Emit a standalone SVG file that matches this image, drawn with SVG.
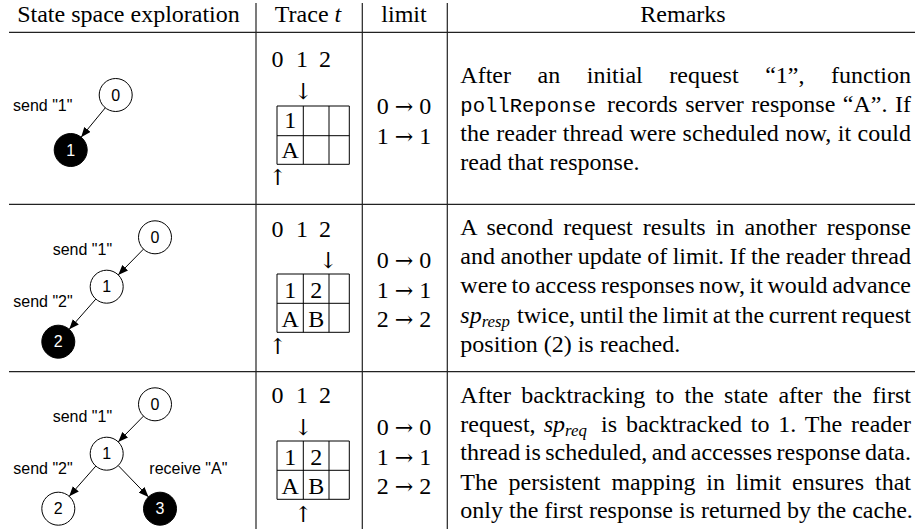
<svg xmlns="http://www.w3.org/2000/svg" width="915" height="529" viewBox="0 0 915 529">
<style>
.rule{stroke:#222;stroke-width:1.2;fill:none}
.serif{font-family:"Liberation Serif","Times New Roman",serif;font-size:24px;fill:#000}
.it{font-style:italic}
.sub{font-size:16.8px;font-style:italic}
.arr{font-family:"DejaVu Serif","DejaVu Sans",serif;font-size:22px;fill:#000;text-anchor:middle}
.ar{font-family:"DejaVu Serif","DejaVu Sans",serif;font-size:22px}
.mono{font-family:"Liberation Mono","Courier New",monospace;font-size:20.5px;fill:#000}
.sans{font-family:"Liberation Sans",Arial,sans-serif;font-size:16px;fill:#000}
.node circle{stroke:#000;stroke-width:1;fill:#fff}
.node.final circle{fill:#000}
.node text{font-family:"Liberation Sans",Arial,sans-serif;font-size:16px;text-anchor:middle;fill:#000}
.node.final text{fill:#fff}
.edge{stroke:#000;stroke-width:1;fill:none;marker-end:url(#ah)}
.grid{stroke:#000;stroke-width:1;fill:none}
.mid{text-anchor:middle}
</style>
<defs>
<marker id="ah" markerUnits="userSpaceOnUse" markerWidth="10" markerHeight="8" refX="10" refY="4" orient="auto">
<path d="M0,0 L10,4 L0,8 z" fill="#000"/>
</marker>
</defs>
<rect width="915" height="529" fill="#fff"/>

<g id="table-lines">
<line class="rule" x1="9" y1="32.3" x2="915" y2="32.3"/>
<line class="rule" x1="9" y1="204.3" x2="915" y2="204.3"/>
<line class="rule" x1="9" y1="371.7" x2="915" y2="371.7" stroke="#555" stroke-width="1.5"/>
<line class="rule" x1="256" y1="3" x2="256" y2="529"/>
<line class="rule" x1="362.3" y1="3" x2="362.3" y2="529"/>
<line class="rule" x1="447.3" y1="3" x2="447.3" y2="529"/>
</g>

<g id="header">
<text class="serif mid" x="128.5" y="22">State space exploration</text>
<text class="serif mid" x="308" y="22">Trace <tspan class="it">t</tspan></text>
<text class="serif mid" x="404" y="22">limit</text>
<text class="serif mid" x="683" y="22">Remarks</text>
</g>

<!-- Row 1 -->
<g id="r1-n0" class="node"><circle cx="115.7" cy="95" r="16.5"/><text x="115.7" y="100.7">0</text></g>
<g id="r1-n1" class="node final"><circle cx="70.7" cy="150" r="16.5"/><text x="70.7" y="155.7">1</text></g>

<!-- Row 2 -->
<g id="r2-n0" class="node"><circle cx="155" cy="237.3" r="16.5"/><text x="155" y="243">0</text></g>
<g id="r2-n1" class="node"><circle cx="106.7" cy="286.7" r="16.5"/><text x="106.7" y="292.4">1</text></g>
<g id="r2-n2" class="node final"><circle cx="58.3" cy="341.7" r="16.5"/><text x="58.3" y="347.4">2</text></g>

<!-- Row 3 -->
<g id="r3-n0" class="node"><circle cx="155" cy="404.3" r="16.5"/><text x="155" y="410">0</text></g>
<g id="r3-n1" class="node"><circle cx="106.7" cy="453.7" r="16.5"/><text x="106.7" y="459.4">1</text></g>
<g id="r3-n2" class="node"><circle cx="58.3" cy="508.7" r="16.5"/><text x="58.3" y="514.4">2</text></g>
<g id="r3-n3" class="node final"><circle cx="160" cy="508.7" r="16.5"/><text x="160" y="514.4">3</text></g>

<g id="connectors">
<line class="edge" x1="105.3" y1="107.8" x2="81.1" y2="137.2"/>
<line class="edge" x1="143.5" y1="249.1" x2="118.2" y2="274.9"/>
<line class="edge" x1="95.8" y1="299.1" x2="69.2" y2="329.3"/>
<line class="edge" x1="143.5" y1="416.1" x2="118.2" y2="441.9"/>
<line class="edge" x1="95.8" y1="466.1" x2="69.2" y2="496.3"/>
<line class="edge" x1="118.2" y1="465.5" x2="148.5" y2="496.9"/>
</g>

<g id="edge-labels">
<text class="sans" x="13" y="111">send "1"</text>
<text class="sans" x="52.7" y="255">send "1"</text>
<text class="sans" x="13.3" y="307">send "2"</text>
<text class="sans" x="52.7" y="422">send "1"</text>
<text class="sans" x="13.3" y="474">send "2"</text>
<text class="sans" x="149.3" y="474">receive "A"</text>
</g>

<!-- Trace column -->
<g id="trace1">
<text class="serif mid" y="67.3"><tspan x="277.5">0</tspan><tspan x="302">1</tspan><tspan x="325">2</tspan></text>
<text class="arr" x="303.3" y="99">↓</text>
<path class="grid" d="M277,106 H349.3 V164.3 H277 Z M277,135.7 H349.3 M303.3,106 V164.3 M329,106 V164.3"/>
<text class="serif mid" x="290.2" y="128.3">1</text>
<text class="serif mid" x="290.2" y="157.7">A</text>
<text class="arr" x="277.7" y="185">↑</text>
</g>
<g id="trace2">
<text class="serif mid" y="236.7"><tspan x="277.5">0</tspan><tspan x="302">1</tspan><tspan x="325">2</tspan></text>
<text class="arr" x="328.3" y="268">↓</text>
<path class="grid" d="M277,274 H349.3 V332.3 H277 Z M277,303.3 H349.3 M303.3,274 V332.3 M329,274 V332.3"/>
<text class="serif mid" x="290.2" y="298">1</text>
<text class="serif mid" x="316.2" y="298">2</text>
<text class="serif mid" x="290.2" y="327.3">A</text>
<text class="serif mid" x="316.2" y="327.3">B</text>
<text class="arr" x="277.7" y="353.5">↑</text>
</g>
<g id="trace3">
<text class="serif mid" y="403"><tspan x="277.5">0</tspan><tspan x="302">1</tspan><tspan x="325">2</tspan></text>
<text class="arr" x="303.3" y="435">↓</text>
<path class="grid" d="M277,441 H349.3 V499.3 H277 Z M277,470.3 H349.3 M303.3,441 V499.3 M329,441 V499.3"/>
<text class="serif mid" x="290.2" y="465">1</text>
<text class="serif mid" x="316.2" y="465">2</text>
<text class="serif mid" x="290.2" y="494.3">A</text>
<text class="serif mid" x="316.2" y="494.3">B</text>
<text class="arr" x="303.3" y="522">↑</text>
</g>

<!-- limit column -->
<g id="limit1">
<text class="serif mid" x="404" y="114.3">0 <tspan class="ar">→</tspan> 0</text>
<text class="serif mid" x="404" y="144.3">1 <tspan class="ar">→</tspan> 1</text>
</g>
<g id="limit2">
<text class="serif mid" x="404" y="268.3">0 <tspan class="ar">→</tspan> 0</text>
<text class="serif mid" x="404" y="297.7">1 <tspan class="ar">→</tspan> 1</text>
<text class="serif mid" x="404" y="326.7">2 <tspan class="ar">→</tspan> 2</text>
</g>
<g id="limit3">
<text class="serif mid" x="404" y="435.3">0 <tspan class="ar">→</tspan> 0</text>
<text class="serif mid" x="404" y="464.7">1 <tspan class="ar">→</tspan> 1</text>
<text class="serif mid" x="404" y="493.7">2 <tspan class="ar">→</tspan> 2</text>
</g>

<!-- Remarks -->
<g id="remarks1">
<text class="serif" x="460.3" y="83.3" word-spacing="20.56" textLength="450.7" lengthAdjust="spacing">After an initial request “1”, function</text>
<text class="mono" x="460.3" y="112.2" textLength="135.7" lengthAdjust="spacingAndGlyphs">pollReponse</text>
<text class="serif" x="607" y="112.2" word-spacing="1.5" textLength="304" lengthAdjust="spacing">records server response “A”. If</text>
<text class="serif" x="460.3" y="141" word-spacing="0.4" textLength="450.7" lengthAdjust="spacing">the reader thread were scheduled now, it could</text>
<text class="serif" x="460.3" y="169.7">read that response.</text>
</g>
<g id="remarks2">
<text class="serif" x="460.3" y="235" word-spacing="4" textLength="450.7" lengthAdjust="spacing">A second request results in another response</text>
<text class="serif" x="460.3" y="264" word-spacing="-0.56" textLength="450.7" lengthAdjust="spacing">and another update of limit. If the reader thread</text>
<text class="serif" x="460.3" y="293.3" word-spacing="-1.5" textLength="450.7" lengthAdjust="spacing">were to access responses now, it would advance</text>
<text class="serif" x="460.3" y="322.7"><tspan class="it">sp</tspan><tspan class="sub" dy="4">resp</tspan></text>
<text class="serif" x="517" y="322.7" word-spacing="-1.3" textLength="394" lengthAdjust="spacing">twice, until the limit at the current request</text>
<text class="serif" x="460.3" y="351.7">position (2) is reached.</text>
</g>
<g id="remarks3">
<text class="serif" x="460.3" y="403.3" word-spacing="4.3" textLength="450.7" lengthAdjust="spacing">After backtracking to the state after the first</text>
<text class="serif" x="460.3" y="431.7">request,</text>
<text class="serif" x="543.7" y="431.7"><tspan class="it">sp</tspan><tspan class="sub" dy="4">req</tspan></text>
<text class="serif" x="601" y="431.7" word-spacing="2.82" textLength="310" lengthAdjust="spacing">is backtracked to 1. The reader</text>
<text class="serif" x="460.3" y="460" word-spacing="-1.53" textLength="450.7" lengthAdjust="spacing">thread is scheduled, and accesses response data.</text>
<text class="serif" x="460.3" y="489.5" word-spacing="4.9" textLength="450.7" lengthAdjust="spacing">The persistent mapping in limit ensures that</text>
<text class="serif" x="460.3" y="518.3">only the first response is returned by the cache.</text>
</g>
</svg>
